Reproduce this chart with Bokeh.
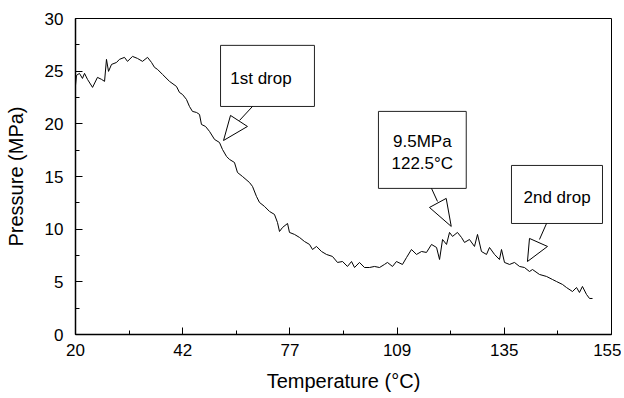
from bokeh.plotting import figure
from bokeh.models import FixedTicker, Range1d
from bokeh.embed import file_html
from bokeh.resources import INLINE
from bokeh.core.properties import value

# x positions are in tick-index units (the axis labels are non-uniform temperatures)
tick_pos = [0, 1, 2, 3, 4, 5]
tick_labels = ["20", "42", "77", "109", "135", "155"]
minor_pos = [0.5, 1.5, 2.5, 3.5, 4.5]
y_ticks = [0, 5, 10, 15, 20, 25, 30]
y_minor = [2.5, 7.5, 12.5, 17.5, 22.5, 27.5]

x_pos = [0.000, 0.009, 0.037, 0.065, 0.084, 0.112, 0.159, 0.205, 0.243, 0.271,
         0.289, 0.308, 0.336, 0.383, 0.410, 0.457, 0.485, 0.532, 0.578, 0.625,
         0.672, 0.709, 0.737, 0.765, 0.812, 0.877, 0.942, 0.970, 0.998, 1.035,
         1.063, 1.091, 1.129, 1.157, 1.175, 1.213, 1.250, 1.297, 1.343, 1.371,
         1.409, 1.437, 1.483, 1.511, 1.558, 1.623, 1.651, 1.688, 1.716, 1.763,
         1.810, 1.856, 1.884, 1.903, 1.931, 1.978, 1.996, 2.043, 2.090, 2.136,
         2.183, 2.211, 2.248, 2.295, 2.341, 2.397, 2.444, 2.491, 2.537, 2.575,
         2.603, 2.649, 2.696, 2.743, 2.789, 2.836, 2.882, 2.910, 2.957, 2.994,
         3.050, 3.088, 3.134, 3.181, 3.228, 3.274, 3.321, 3.368, 3.396, 3.424,
         3.461, 3.489, 3.517, 3.563, 3.601, 3.629, 3.675, 3.722, 3.750, 3.787,
         3.834, 3.862, 3.909, 3.955, 3.974, 4.002, 4.049, 4.095, 4.142, 4.188,
         4.235, 4.263, 4.328, 4.394, 4.450, 4.487, 4.543, 4.580, 4.636, 4.674,
         4.701, 4.729, 4.767, 4.795, 4.823]

pressure = [23.65, 24.60, 24.79, 24.31, 24.79, 24.22, 23.46, 24.41, 24.22, 24.03,
            26.12, 24.98, 25.64, 25.83, 26.12, 26.31, 25.93, 26.40, 26.21, 25.93,
            26.31, 25.83, 25.36, 25.17, 24.69, 24.03, 23.55, 22.98, 22.79, 22.32,
            21.65, 21.18, 21.08, 20.89, 19.94, 19.75, 19.28, 18.52, 18.23, 17.57,
            16.90, 16.62, 16.33, 15.38, 15.00, 14.43, 14.06, 13.11, 12.54, 12.16,
            11.68, 11.40, 10.64, 9.78, 10.16, 10.54, 9.69, 9.50, 9.21, 8.83,
            8.55, 8.07, 8.36, 7.88, 7.60, 7.41, 6.84, 6.93, 6.46, 6.93,
            6.36, 6.84, 6.36, 6.36, 6.46, 6.36, 6.65, 6.84, 6.46, 6.93,
            6.65, 7.31, 8.07, 7.60, 7.88, 7.79, 8.55, 8.26, 7.12, 9.02,
            8.55, 9.69, 9.31, 9.69, 9.21, 8.74, 9.02, 8.36, 9.50, 7.88,
            7.60, 8.26, 7.60, 7.12, 8.07, 6.84, 6.65, 6.84, 6.46, 6.36,
            5.98, 6.17, 5.70, 5.51, 5.22, 5.03, 4.75, 4.46, 4.08, 4.46,
            3.99, 4.56, 3.80, 3.42, 3.42]

# callout annotations (data units)
box_left = [1.353, 2.826, 4.067]
box_right = [2.229, 3.645, 4.916]
box_top = [27.45, 21.18, 16.05]
box_bottom = [21.65, 13.87, 10.54]
note_x = [1.730, 3.235, 3.235, 4.492]
note_y = [24.31, 18.28, 16.27, 13.01]
note_text = ["1st drop", "9.5MPa", "122.5°C", "2nd drop"]
lead_x0 = [1.651, 3.321, 4.394]
lead_y0 = [21.65, 13.87, 10.54]
lead_x1 = [1.530, 3.377, 4.328]
lead_y1 = [20.32, 12.63, 9.02]
head_xs = [[1.381, 1.446, 1.604], [3.505, 3.302, 3.458], [4.216, 4.235, 4.403]]
head_ys = [[18.42, 20.80, 19.75], [10.26, 12.06, 12.92], [6.93, 9.12, 8.36]]

FONT = "Liberation Sans"

p = figure(width=621, height=397, output_backend="svg", toolbar_location=None,
           x_range=Range1d(0, 5), y_range=Range1d(0, 30),
           min_border_left=75, min_border_right=10, min_border_top=18,
           min_border_bottom=63)
p.background_fill_color = "white"
p.border_fill_color = "white"
p.outline_line_color = "black"
p.outline_line_width = 1
p.xgrid.visible = False
p.ygrid.visible = False

p.line(x_pos, pressure, line_color="black", line_width=1)

p.quad(left=box_left, right=box_right, top=box_top, bottom=box_bottom,
       fill_color="white", line_color="#222222", line_width=1)
p.segment(x0=lead_x0, y0=lead_y0, x1=lead_x1, y1=lead_y1,
          line_color="black", line_width=1)
p.patches(head_xs, head_ys, fill_color="white", line_color="black", line_width=1)
p.text(note_x, note_y, text=note_text, text_font=value(FONT),
       text_font_size="17px", text_align="center", text_baseline="middle",
       text_color="black")

for ax in (p.xaxis[0], p.yaxis[0]):
    ax.axis_line_color = "black"
    ax.axis_line_width = 1.5
    ax.major_tick_in = 7
    ax.major_tick_out = 0
    ax.minor_tick_in = 4
    ax.minor_tick_out = 0
    ax.major_tick_line_color = "black"
    ax.minor_tick_line_color = "black"
    ax.major_label_text_font = FONT
    ax.major_label_text_font_size = "17px"
    ax.major_label_text_color = "black"
    ax.axis_label_text_font = FONT
    ax.axis_label_text_font_size = "20px"
    ax.axis_label_text_font_style = "normal"
    ax.axis_label_text_color = "black"

p.xaxis.ticker = FixedTicker(ticks=tick_pos, minor_ticks=minor_pos)
p.xaxis.major_label_overrides = {t: l for t, l in zip(tick_pos, tick_labels)}
p.xaxis.axis_label = "Temperature (°C)"
p.xaxis.major_label_standoff = 9
p.xaxis.axis_label_standoff = 11

p.yaxis.ticker = FixedTicker(ticks=y_ticks, minor_ticks=y_minor)
p.yaxis.axis_label = "Pressure (MPa)"
p.yaxis.major_label_standoff = 12
p.yaxis.axis_label_standoff = 15

open("out.html", "w").write(file_html(p, INLINE))
